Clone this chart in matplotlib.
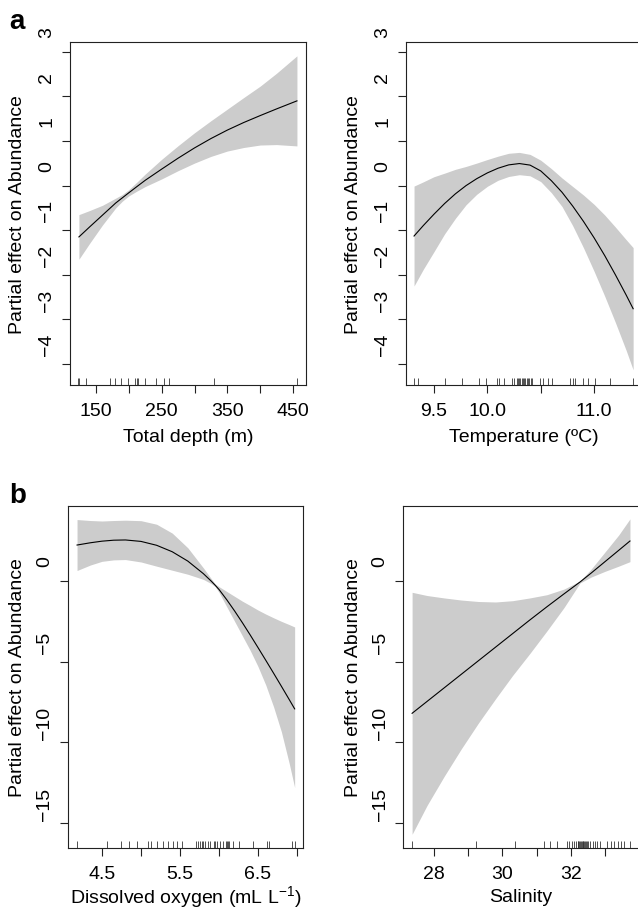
"""
GAM partial effects on Abundance
================================
Four smooth terms (depth, temperature, oxygen, salinity) with their
confidence bands and a rug of the sampled values, in the R plot.gam look.
"""

import matplotlib
matplotlib.use('Agg')
import matplotlib.pyplot as plt
from matplotlib.transforms import ScaledTranslation

plt.rcParams['font.family'] = ['Liberation Sans', 'DejaVu Sans']
plt.rcParams['mathtext.fontset'] = 'custom'
plt.rcParams['mathtext.rm'] = 'Liberation Sans'

# =============================================================================
# 1. Data
# =============================================================================
# --- Total depth (m)
depth_x = [124, 140, 160, 180, 190, 200, 212, 225, 250, 275, 300, 325, 350, 375, 400, 425, 456]
depth_fit = [-1.15, -0.93, -0.66, -0.39, -0.275, -0.16, -0.025, 0.12, 0.37, 0.615, 0.845,
             1.055, 1.245, 1.415, 1.57, 1.72, 1.90]
depth_hi = [-0.65, -0.56, -0.44, -0.28, -0.20, -0.09, 0.075, 0.26, 0.59, 0.895, 1.185,
            1.455, 1.715, 1.975, 2.23, 2.52, 2.91]
depth_lo = [-1.65, -1.30, -0.88, -0.50, -0.35, -0.23, -0.125, -0.02, 0.15, 0.335, 0.505,
            0.655, 0.775, 0.855, 0.91, 0.92, 0.89]
depth_rug = [123, 124.5, 135, 171, 179, 188, 199, 210, 212, 214, 224, 241, 254, 261, 330, 456]

# --- Temperature (ºC)
temp_x = [9.313, 9.4, 9.5, 9.6, 9.7, 9.8, 9.9, 10.0, 10.1, 10.2, 10.3, 10.4, 10.5,
          10.6, 10.7, 10.8, 10.9, 11.0, 11.1, 11.2, 11.3, 11.366]
temp_fit = [-1.13, -0.895, -0.64, -0.40, -0.185, 0.0, 0.155, 0.285, 0.39, 0.465, 0.495, 0.46, 0.33,
            0.11, -0.15, -0.46, -0.80, -1.17, -1.57, -2.00, -2.45, -2.76]
temp_hi = [-0.01, 0.085, 0.20, 0.28, 0.365, 0.43, 0.505, 0.585, 0.66, 0.725, 0.745, 0.70, 0.57,
           0.38, 0.17, -0.02, -0.21, -0.42, -0.66, -0.93, -1.21, -1.39]
temp_lo = [-2.25, -1.875, -1.48, -1.08, -0.735, -0.43, -0.195, -0.015, 0.12, 0.205, 0.245, 0.22, 0.09,
           -0.16, -0.47, -0.90, -1.39, -1.92, -2.48, -3.07, -3.69, -4.13]
temp_rug = [9.31, 9.35, 9.60, 9.76, 9.92, 9.99, 10.09, 10.11, 10.16, 10.23, 10.25, 10.28, 10.29,
            10.30, 10.31, 10.32, 10.33, 10.34, 10.35, 10.37, 10.38, 10.39, 10.41, 10.42, 10.49,
            10.52, 10.57, 10.61, 10.77, 10.80, 10.82, 10.90, 10.94, 11.01, 11.15, 11.36]

# --- Dissolved oxygen (mL L-1)
oxy_x = [4.18, 4.35, 4.5, 4.65, 4.8, 5.0, 5.2, 5.4, 5.6, 5.8, 5.9, 5.95, 6.0, 6.1, 6.2,
         6.3, 6.4, 6.5, 6.6, 6.7, 6.8, 6.9, 6.97]
oxy_fit = [2.23, 2.37, 2.47, 2.53, 2.545, 2.455, 2.215, 1.815, 1.235, 0.455, -0.005, -0.255, -0.525,
           -1.165, -1.855, -2.585, -3.345, -4.125, -4.915, -5.715, -6.525, -7.345, -7.926]
oxy_hi = [3.81, 3.75, 3.72, 3.75, 3.77, 3.74, 3.52, 2.97, 2.06, 0.81, 0.15, -0.18, -0.35,
          -0.65, -0.95, -1.25, -1.52, -1.80, -2.05, -2.28, -2.50, -2.70, -2.85]
oxy_lo = [0.65, 0.99, 1.22, 1.31, 1.33, 1.18, 0.92, 0.67, 0.42, 0.10, -0.16, -0.34, -0.70,
          -1.60, -2.50, -3.40, -4.30, -5.30, -6.45, -7.80, -9.35, -11.30, -12.80]
oxy_rug = [4.18, 4.57, 4.74, 4.84, 4.95, 5.09, 5.13, 5.20, 5.28, 5.35, 5.41, 5.46, 5.52, 5.70, 5.73,
           5.75, 5.78, 5.80, 5.82, 5.86, 5.89, 5.93, 5.95, 5.97, 6.01, 6.05, 6.09, 6.10, 6.11, 6.13,
           6.18, 6.26, 6.44, 6.61, 6.64, 6.93, 6.97]

# --- Salinity
sal_x = [27.36, 27.8, 28.3, 28.8, 29.3, 29.8, 30.3, 30.8, 31.3, 31.8, 32.27, 32.6, 33.0, 33.4, 33.73]
sal_fit = [-8.20, -7.46, -6.62, -5.78, -4.94, -4.10, -3.26, -2.42, -1.60, -0.80, -0.06, 0.50, 1.20, 1.90, 2.48]
sal_hi = [-0.70, -0.90, -1.05, -1.18, -1.27, -1.30, -1.22, -1.05, -0.85, -0.50, 0.00, 0.75, 1.80, 2.85, 3.85]
sal_lo = [-15.7, -13.9, -12.1, -10.4, -8.8, -7.3, -5.85, -4.5, -3.1, -1.65, -0.12, 0.25, 0.60, 0.92, 1.20]
sal_rug = [27.35, 29.23, 30.37, 31.22, 31.39, 31.60, 31.90, 31.96, 32.03, 32.09, 32.15, 32.20, 32.22,
           32.25, 32.27, 32.30, 32.32, 32.35, 32.37, 32.40, 32.42, 32.45, 32.47, 32.51, 32.56, 32.64,
           32.71, 32.78, 32.85, 33.07, 33.17, 33.27, 33.38, 33.48, 33.57, 33.74]

# =============================================================================
# 2. Figure layout (pixel boxes measured on the original, 638 x 912)
# =============================================================================
W, H = 638, 912
fig = plt.figure(figsize=(W / 100, H / 100), dpi=100)


def px_axes(left, top, right, bottom):
    return fig.add_axes([left / W, 1 - bottom / H, (right - left) / W, (bottom - top) / H])


def draw_panel(ax, x, fit, lo, hi, rug, xlim, ylim, xticks, xlabels, yticks,
               xlabel, ylab_x, xlab_y):
    ax.fill_between(x, lo, hi, color='#cccccc', lw=0)
    ax.plot(x, fit, color='black', lw=0.8)
    # rug of observed values along the bottom
    ax.vlines(rug, 0, 0.02, transform=ax.get_xaxis_transform(), color='#333333', lw=0.6)

    ax.set_xlim(xlim)
    ax.set_ylim(ylim)
    ax.set_xticks(xticks)
    ax.set_xticklabels(xlabels)
    ax.set_yticks(yticks)
    ax.set_yticklabels([])
    ax.tick_params(direction='out', length=5.8, width=0.8, color='#222222',
                   labelsize=14, pad=6.5)
    for s in ax.spines.values():
        s.set_linewidth(0.8)
        s.set_color('#222222')

    # y tick labels run parallel to the axis and sit ~20 px above their ticks
    off = ScaledTranslation(-0.23, 0.20, fig.dpi_scale_trans)
    for v in yticks:
        ax.text(0, v, f'{v:g}'.replace('-', '\u2212'),
                transform=ax.get_yaxis_transform() + off,
                rotation=90, ha='center', va='center', fontsize=14)

    ax.set_xlabel(xlabel, fontsize=14)
    ax.xaxis.set_label_coords(0.5, xlab_y)
    ax.xaxis.label.set_va('center')
    ax.set_ylabel('Partial effect on Abundance', fontsize=14)
    ax.yaxis.set_label_coords(ylab_x, 0.5)
    ax.yaxis.label.set_va('center')


# =============================================================================
# 3. Panels
# =============================================================================
ax1 = px_axes(70, 43, 306, 386)
draw_panel(ax1, depth_x, depth_fit, depth_lo, depth_hi, depth_rug,
           (110.4, 469.8), (-4.47, 3.22),
           [150, 200, 250, 300, 350, 400, 450], ['150', '', '250', '', '350', '', '450'],
           [-4, -3, -2, -1, 0, 1, 2, 3], 'Total depth (m)', -52 / 236, -52 / 343)

ax2 = px_axes(406, 43, 642, 386)
draw_panel(ax2, temp_x, temp_fit, temp_lo, temp_hi, temp_rug,
           (9.2376, 11.449), (-4.47, 3.22),
           [9.5, 10.0, 10.5, 11.0], ['9.5', '10.0', '', '11.0'],
           [-4, -3, -2, -1, 0, 1, 2, 3], 'Temperature (\u00baC)', -53 / 236, -52 / 343)

ax3 = px_axes(68, 507, 303, 849)
draw_panel(ax3, oxy_x, oxy_fit, oxy_lo, oxy_hi, oxy_rug,
           (4.064, 7.077), (-16.55, 4.65),
           [4.5, 5.0, 5.5, 6.0, 6.5, 7.0], ['4.5', '', '5.5', '', '6.5', ''],
           [-15, -10, -5, 0], 'Dissolved oxygen (mL L$^{\\mathregular{-1}}$)',
           -50 / 235, -49 / 342)

ax4 = px_axes(403, 507, 639, 849)
draw_panel(ax4, sal_x, sal_fit, sal_lo, sal_hi, sal_rug,
           (27.094, 33.994), (-16.55, 4.65),
           [28, 29, 30, 31, 32, 33], ['28', '', '30', '', '32', ''],
           [-15, -10, -5, 0], 'Salinity', -50 / 236, -49 / 342)

# panel letters
fig.text(17 / W, 1 - 22 / H, 'a', fontsize=20, fontweight='bold', ha='center', va='center')
fig.text(18 / W, 1 - 496 / H, 'b', fontsize=20, fontweight='bold', ha='center', va='center')

fig.savefig('out.png', dpi=100)
